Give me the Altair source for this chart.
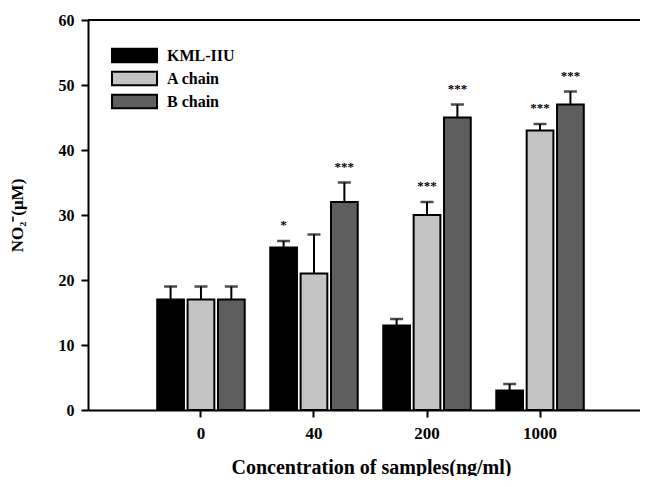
import altair as alt
import pandas as pd

concentrations = ["0", "40", "200", "1000"]
series_names = ["KML-IIU", "A chain", "B chain"]
kml_mean = [17, 25, 13, 3]
kml_err = [2, 1, 1, 1]
a_mean = [17, 21, 30, 43]
a_err = [2, 6, 2, 1]
b_mean = [17, 32, 45, 47]
b_err = [2, 3, 2, 2]
kml_sig = ["", "*", "", ""]
a_sig = ["", "", "***", "***"]
b_sig = ["", "***", "***", "***"]
colors = ["#000000", "#c4c4c4", "#5e5e5e"]
y_ticks = [0, 10, 20, 30, 40, 50, 60]

rows = []
for name, means, errs, sigs in zip(series_names, [kml_mean, a_mean, b_mean],
                                   [kml_err, a_err, b_err], [kml_sig, a_sig, b_sig]):
    for c, m, e, s in zip(concentrations, means, errs, sigs):
        rows.append({"conc": c, "series": name, "mean": m, "top": m + e, "sig": s})
df = pd.DataFrame(rows)

FONT = "Liberation Serif"

x_enc = alt.X("conc:N", sort=concentrations,
              scale=alt.Scale(paddingInner=0, paddingOuter=0.442, align=0.565),
              axis=alt.Axis(title="Concentration of samples(ng/ml)", labelAngle=0,
                            labelFont=FONT, labelFontSize=17, labelFontWeight="bold",
                            labelColor="black", labelPadding=8,
                            tickSize=7, tickWidth=2, tickColor="black",
                            domainColor="black", domainWidth=2,
                            titleFont=FONT, titleFontSize=20, titleFontWeight="bold",
                            titleColor="black", titleX=283, titleY=57,
                            titleBaseline="middle", titleAlign="center"))
xo_enc = alt.XOffset("series:N", sort=series_names,
                     scale=alt.Scale(paddingInner=0.12, paddingOuter=0.42))
y_scale = alt.Scale(domain=[0, 60], nice=False)

base = alt.Chart(df).encode(x=x_enc, xOffset=xo_enc)

bars = base.mark_bar(stroke="black", strokeWidth=2).encode(
    y=alt.Y("mean:Q", scale=y_scale,
            axis=alt.Axis(values=y_ticks, title="NO₂⁻(μM)", grid=False,
                          labelFont=FONT, labelFontSize=16, labelFontWeight="bold",
                          labelColor="black", labelPadding=7,
                          tickSize=7, tickWidth=2, tickColor="black",
                          domainColor="black", domainWidth=2,
                          titleFont=FONT, titleFontSize=17, titleFontWeight="bold",
                          titleColor="black", titleX=-71, titleY=195,
                          titleAngle=270, titleAlign="center", titleBaseline="middle")),
    color=alt.Color("series:N", sort=series_names,
                    scale=alt.Scale(domain=series_names, range=colors),
                    legend=alt.Legend(title=None, orient="none", legendX=35.5, legendY=24.5,
                                      padding=0,
                                      symbolType="M-2.25,-0.675H2.25V0.675H-2.25Z",
                                      symbolSize=400, symbolStrokeColor="black",
                                      symbolStrokeWidth=2, symbolOpacity=1,
                                      labelFont=FONT, labelFontSize=16,
                                      labelFontWeight="bold", labelColor="black",
                                      labelOffset=21.5, rowPadding=1)),
)

err = base.mark_rule(color="black", strokeWidth=2).encode(
    y=alt.Y("mean:Q", scale=y_scale), y2="top:Q")

caps = base.mark_tick(color="black", size=13, thickness=2.5, orient="horizontal").encode(
    y=alt.Y("top:Q", scale=y_scale))

stars = base.mark_text(font=FONT, fontSize=13, fontWeight="bold", color="black",
                       baseline="alphabetic", dy=-12).encode(
    y=alt.Y("top:Q", scale=y_scale), text="sig:N")

frame_top = alt.Chart(pd.DataFrame({"v": [60]})).mark_rule(
    color="black", strokeWidth=2).encode(y=alt.Y("v:Q", scale=y_scale))

chart = alt.layer(bars, err, caps, stars, frame_top).properties(
    width=552, height=390,
    padding={"left": 80, "top": 12, "right": 0, "bottom": 66},
    autosize="none",
).configure_view(stroke=None).configure(font=FONT)

chart.save("out.html", embed_options={"renderer": "svg", "actions": False})
